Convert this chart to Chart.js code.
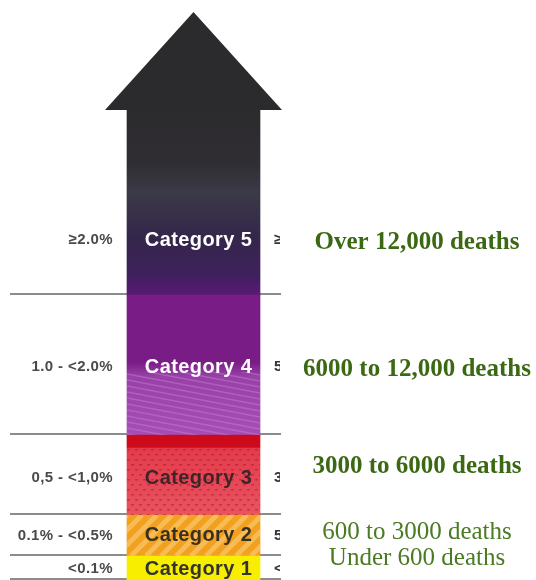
<!DOCTYPE html>
<html>
<head>
<meta charset="utf-8">
<script src="https://cdn.jsdelivr.net/npm/chart.js@4.4.0/dist/chart.umd.min.js"></script>
<style>
  html, body { margin: 0; padding: 0; background: #fff; }
  canvas { display: block; }
</style>
</head>
<body>
<canvas id="chart" width="536" height="580"></canvas>
<script>
// bands of the arrow, stacked from the bottom
const categories = ['Category 1', 'Category 2', 'Category 3', 'Category 4', 'Category 5'];
const bandHeights = [24, 41, 80, 140, 187];
const arrowTip = 568;   // tip of the arrow head on the same scale
const rangeLabels = ['<0.1%', '0.1% - <0.5%', '0,5 - <1,0%', '1.0 - <2.0%', '\u22652.0%'];
const deathLabels = ['Under 600 deaths', '600 to 3000 deaths', '3000 to 6000 deaths', '6000 to 12,000 deaths', 'Over 12,000 deaths'];
const cutMarks = ['<', '5', '3', '5', '\u2265'];

// gradient running over one band, stops given top -> bottom
function bandGradient(index, stops, fallback) {
    return function(ctx) {
        const ys = ctx.chart.scales.y;
        if (!ys) return fallback;
        let below = 0;
        for (let i = 0; i < index; i++) below += bandHeights[i];
        const top = ys.getPixelForValue(below + bandHeights[index]);
        const bottom = ys.getPixelForValue(below);
        if (!isFinite(top) || !isFinite(bottom) || top === bottom) return fallback;
        const g = ctx.chart.ctx.createLinearGradient(0, top, 0, bottom);
        stops.forEach(s => g.addColorStop(s[0], s[1]));
        return g;
    };
}

const fills = [
    '#f8ef00',
    '#f2a01e',
    bandGradient(2, [[0, '#cc0a1c'], [0.15, '#cc0a1c'], [0.17, '#e23c4c'], [1, '#ea5360']], '#e03a4a'),
    bandGradient(3, [[0, '#7a1c86'], [0.48, '#7a1c86'], [0.58, '#9840a8'], [1, '#a64db6']], '#7a1c86'),
    bandGradient(4, [[0, '#2b2a2c'], [0.3, '#302e34'], [0.45, '#3b3a47'], [0.7, '#34264b'], [0.9, '#40205e'], [1, '#5a1a76']], '#2b2a2c')
];

function clipTo(c, el, fn, fromFrac) {
    const h = el.base - el.y;
    const off = h * (fromFrac || 0);
    c.save();
    c.beginPath();
    c.rect(el.x - el.width / 2, el.y + off, el.width, h - off);
    c.clip();
    fn(el.x - el.width / 2, el.y, el.width, h);
    c.restore();
}

const arrowPlugin = {
    id: 'arrowPlugin',
    beforeDatasetsDraw(chart) {
        const c = chart.ctx;
        const top = chart.getDatasetMeta(4).data[0];

        // grey rules at every band edge
        c.save();
        c.strokeStyle = '#8c8c8c';
        c.lineWidth = 2;
        chart.data.datasets.forEach((ds, i) => {
            const el = chart.getDatasetMeta(i).data[0];
            c.beginPath();
            c.moveTo(10, el.base - 1);
            c.lineTo(281, el.base - 1);
            c.stroke();
        });
        c.restore();

        // arrow head
        const half = top.width / 2 + 22;
        const tipY = chart.scales.y.getPixelForValue(arrowTip);
        c.save();
        c.fillStyle = '#2b2a2c';
        c.beginPath();
        c.moveTo(top.x - half, top.y + 2);
        c.lineTo(top.x, tipY);
        c.lineTo(top.x + half, top.y + 2);
        c.closePath();
        c.fill();
        c.restore();
    },
    afterDatasetsDraw(chart) {
        const c = chart.ctx;
        const els = chart.data.datasets.map((ds, i) => chart.getDatasetMeta(i).data[0]);

        // textures
        clipTo(c, els[1], (x, y, w, h) => {
            c.strokeStyle = 'rgba(250, 200, 110, 0.7)';
            c.lineWidth = 5;
            for (let k = -h; k < w + h; k += 15) {
                c.beginPath();
                c.moveTo(x + k, y + h);
                c.lineTo(x + k + h, y);
                c.stroke();
            }
        });
        clipTo(c, els[2], (x, y, w, h) => {
            c.fillStyle = 'rgba(170, 20, 40, 0.5)';
            let row = 0;
            for (let yy = y + 14; yy < y + h; yy += 5, row++) {
                for (let xx = x + (row % 2) * 4; xx < x + w; xx += 8) {
                    c.fillRect(xx, yy, 3, 1.5);
                }
            }
        }, 0.15);
        clipTo(c, els[3], (x, y, w, h) => {
            c.strokeStyle = 'rgba(200, 140, 215, 0.4)';
            c.lineWidth = 1.5;
            for (let k = y + h * 0.4; k < y + h + 40; k += 6) {
                c.beginPath();
                c.moveTo(x, k - 25);
                c.lineTo(x + w, k);
                c.stroke();
            }
        }, 0.55);

        const labelY = els.map((el, i) => i === 4 ? el.base - 55 : (el.y + el.base) / 2 + [1, 0, 3, 2][i]);
        const catColors = ['#333', '#3a3020', '#3f2528', '#fff', '#fff'];
        const deathDy = [-11, -3, -11, 3, 3];

        c.save();
        c.textBaseline = 'middle';
        els.forEach((el, i) => {
            // category name in the band
            c.font = 'bold 20px "Liberation Sans", Arial, sans-serif';
            c.letterSpacing = '0.4px';
            c.textAlign = 'center';
            c.fillStyle = catColors[i];
            c.fillText(categories[i], el.x + 5, labelY[i]);

            // range on the left
            c.font = 'bold 15px "Liberation Sans", Arial, sans-serif';
            c.letterSpacing = '0.4px';
            c.textAlign = 'right';
            c.fillStyle = '#4a4a4a';
            c.fillText(rangeLabels[i], 113, labelY[i]);

            // cut-off text just right of the arrow
            c.save();
            c.beginPath();
            c.rect(270, labelY[i] - 12, 10, 24);
            c.clip();
            c.textAlign = 'left';
            c.fillStyle = '#333';
            c.fillText(cutMarks[i], 274, labelY[i]);
            c.restore();

            // deaths on the right
            c.letterSpacing = '0px';
            c.textAlign = 'center';
            const bold = i >= 2;
            c.font = (bold ? 'bold ' : '') + '25px "Liberation Serif", "Times New Roman", serif';
            c.fillStyle = bold ? '#3b6812' : '#4a7a22';
            c.fillText(deathLabels[i], 417, labelY[i] + deathDy[i]);
        });
        c.restore();
    }
};

new Chart(document.getElementById('chart'), {
    type: 'bar',
    data: {
        labels: [''],
        datasets: categories.map((name, i) => ({
            label: name,
            data: [bandHeights[i]],
            backgroundColor: fills[i],
            borderWidth: 0,
            barThickness: 133,
            stack: 'arrow'
        }))
    },
    options: {
        responsive: false,
        animation: false,
        layout: { padding: { left: 0, right: 149, top: 0, bottom: 0 } },
        plugins: {
            legend: { display: false },
            tooltip: { enabled: false }
        },
        scales: {
            x: { stacked: true, display: false },
            y: { stacked: true, display: false, min: 0, max: 580 }
        }
    },
    plugins: [arrowPlugin]
});
</script>
</body>
</html>
